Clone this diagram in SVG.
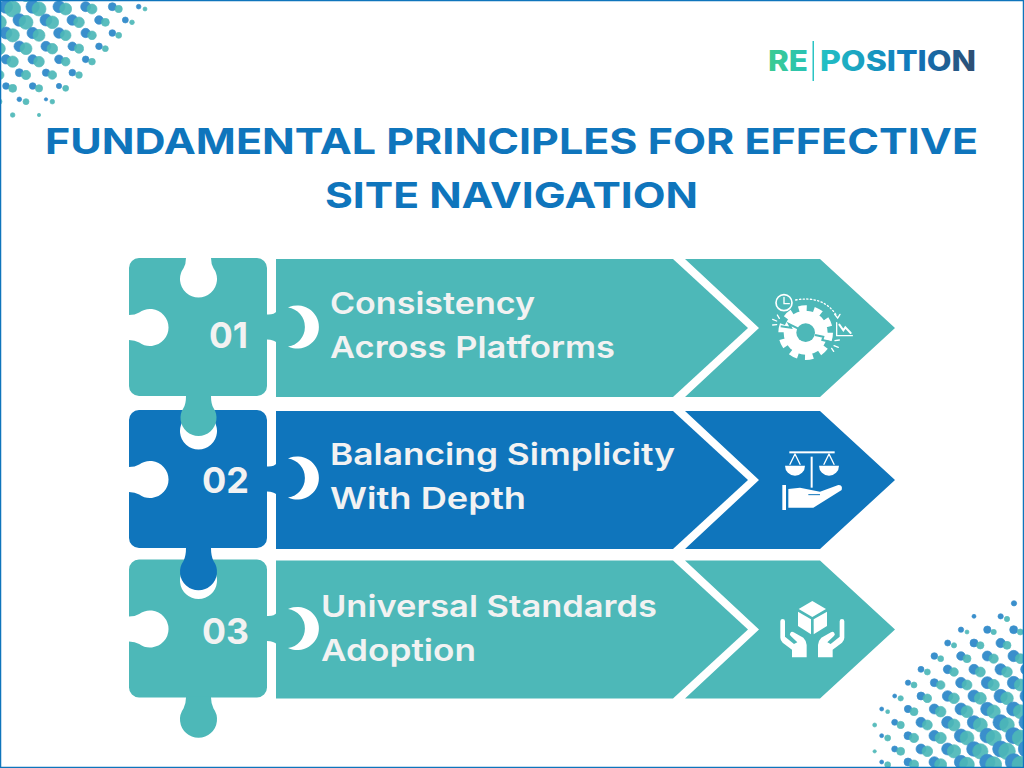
<svg xmlns="http://www.w3.org/2000/svg" width="1024" height="768" viewBox="0 0 1024 768">
<style>
.t{fill:#4DB8B8}.b{fill:#0F75BC}
.dots .d{fill:#3A8FCC;stroke:#3A8FCC;stroke-width:2}.dots .e{fill:#4DB8B8;stroke:#4DB8B8;stroke-width:2;opacity:.92}
text{font-family:Inter,"Liberation Sans",sans-serif}
.title{font-size:36px;font-weight:700;fill:#0F75BC}
.label{font-size:30px;font-weight:600;fill:#F2F2F2}
.num{font-size:36px;font-weight:700;fill:#F2F2F2}
.logo{font-size:28px;font-weight:800}
.w{fill:#fff}
.ws{fill:none;stroke:#fff;stroke-linecap:round}
</style>
<defs>
<linearGradient id="lg" gradientUnits="userSpaceOnUse" x1="769" y1="0" x2="976" y2="0">
<stop offset="0" stop-color="#3BCB92"/><stop offset=".27" stop-color="#22BFC4"/><stop offset=".7" stop-color="#0F75BC"/><stop offset="1" stop-color="#2F4D70"/>
</linearGradient>
<path id="piece" d="M10 0H57Q57 6 54.5 10.2A18.5 18.5 0 1 0 84.5 10.2Q82 6 82 0H128A10 10 0 0 1 138 10V128A10 10 0 0 1 128 138H10A10 10 0 0 1 0 128V82Q6 82 10.2 84.5A18.5 18.5 0 1 0 10.2 54.5Q6 57 0 57V10A10 10 0 0 1 10 0Z"/>
<path id="arrow" d="M147 1H544L619 70L544 139H147Z"/>
<path id="neck" d="M138 56.5Q145 57 148 53V85Q145 81.5 138 81.5Z"/>
<path id="arrowhead" d="M556 1H691L766 70L691 139H556L630 70Z"/>
<path id="crescent" d="M159 49A21.6 21.6 0 1 1 159 88A19.7 19.7 0 0 0 159 49Z" fill="#fff"/>
</defs>
<rect width="1024" height="768" fill="#fff"/>

<g id="dots-top-left" class="dots" transform="scale(.33333)">
<circle class="e" cx="78" cy="-13" r="18"/><circle class="e" cx="157" cy="-13" r="14"/><circle class="e" cx="237" cy="-13" r="12"/>
<circle class="d" cx="18" cy="20" r="20"/><circle class="e" cx="38" cy="27" r="24"/><circle class="d" cx="98" cy="20" r="20"/><circle class="e" cx="117" cy="27" r="21"/><circle class="d" cx="177" cy="20" r="18"/><circle class="e" cx="197" cy="27" r="18"/><circle class="d" cx="257" cy="20" r="15"/><circle class="e" cx="276" cy="27" r="15"/><circle class="d" cx="337" cy="20" r="12"/><circle class="e" cx="356" cy="27" r="11"/><circle class="d" cx="416" cy="20" r="7"/><circle class="e" cx="435" cy="27" r="6"/>
<circle class="e" cx="-2" cy="67" r="21"/><circle class="d" cx="58" cy="60" r="19"/><circle class="e" cx="78" cy="67" r="21"/><circle class="d" cx="138" cy="60" r="18"/><circle class="e" cx="157" cy="67" r="19"/><circle class="d" cx="217" cy="60" r="16"/><circle class="e" cx="237" cy="67" r="16"/><circle class="d" cx="297" cy="60" r="13"/><circle class="e" cx="316" cy="67" r="12"/><circle class="d" cx="376" cy="60" r="9"/><circle class="e" cx="396" cy="67" r="7"/>
<circle class="d" cx="18" cy="99" r="18"/><circle class="e" cx="38" cy="106" r="20"/><circle class="d" cx="98" cy="99" r="17"/><circle class="e" cx="117" cy="106" r="18"/><circle class="d" cx="177" cy="99" r="16"/><circle class="e" cx="197" cy="106" r="16"/><circle class="d" cx="257" cy="99" r="14"/><circle class="e" cx="276" cy="106" r="13"/><circle class="d" cx="337" cy="99" r="10"/><circle class="e" cx="356" cy="106" r="9"/>
<circle class="e" cx="-2" cy="146" r="18"/><circle class="d" cx="58" cy="139" r="16"/><circle class="e" cx="78" cy="146" r="18"/><circle class="d" cx="138" cy="139" r="15"/><circle class="e" cx="157" cy="146" r="16"/><circle class="d" cx="217" cy="139" r="13"/><circle class="e" cx="237" cy="146" r="14"/><circle class="d" cx="297" cy="139" r="10"/><circle class="e" cx="316" cy="146" r="9"/>
<circle class="d" cx="18" cy="178" r="14"/><circle class="e" cx="38" cy="185" r="17"/><circle class="d" cx="98" cy="178" r="14"/><circle class="e" cx="117" cy="185" r="16"/><circle class="d" cx="177" cy="178" r="13"/><circle class="e" cx="197" cy="185" r="13"/><circle class="d" cx="257" cy="178" r="10"/><circle class="e" cx="276" cy="185" r="10"/>
<circle class="e" cx="-2" cy="225" r="14"/><circle class="d" cx="58" cy="218" r="12"/><circle class="e" cx="78" cy="225" r="14"/><circle class="d" cx="138" cy="218" r="11"/><circle class="e" cx="157" cy="225" r="13"/><circle class="d" cx="217" cy="218" r="10"/><circle class="e" cx="237" cy="225" r="10"/>
<circle class="d" cx="18" cy="258" r="10"/><circle class="e" cx="38" cy="265" r="12"/><circle class="d" cx="98" cy="258" r="10"/><circle class="e" cx="117" cy="265" r="11"/><circle class="d" cx="177" cy="258" r="8"/><circle class="e" cx="197" cy="265" r="9"/>
<circle class="e" cx="-2" cy="305" r="8"/><circle class="d" cx="58" cy="298" r="7"/><circle class="e" cx="78" cy="305" r="9"/><circle class="d" cx="138" cy="298" r="5"/><circle class="e" cx="157" cy="305" r="7"/>
<circle class="e" cx="38" cy="345" r="7"/><circle class="e" cx="117" cy="345" r="5"/>
</g>

<g id="dots-bottom-right" class="dots" transform="translate(860 590) scale(.33333)">
<circle class="d" cx="462" cy="40" r="8"/>
<circle class="d" cx="342" cy="79" r="6"/><circle class="d" cx="422" cy="79" r="8"/><circle class="e" cx="441" cy="87" r="8"/>
<circle class="d" cx="303" cy="119" r="8"/><circle class="e" cx="321" cy="126" r="6"/><circle class="d" cx="382" cy="119" r="11"/><circle class="e" cx="401" cy="126" r="8"/><circle class="d" cx="461" cy="119" r="12"/><circle class="e" cx="481" cy="126" r="9"/>
<circle class="d" cx="263" cy="159" r="9"/><circle class="e" cx="282" cy="166" r="8"/><circle class="d" cx="342" cy="159" r="12"/><circle class="e" cx="361" cy="166" r="11"/><circle class="d" cx="422" cy="159" r="14"/><circle class="e" cx="441" cy="166" r="12"/>
<circle class="d" cx="223" cy="198" r="10"/><circle class="e" cx="242" cy="206" r="9"/><circle class="d" cx="303" cy="198" r="13"/><circle class="e" cx="321" cy="206" r="12"/><circle class="d" cx="382" cy="198" r="15"/><circle class="e" cx="401" cy="206" r="14"/><circle class="d" cx="461" cy="198" r="17"/><circle class="e" cx="481" cy="206" r="15"/>
<circle class="d" cx="183" cy="238" r="9"/><circle class="e" cx="202" cy="246" r="9"/><circle class="d" cx="263" cy="238" r="13"/><circle class="e" cx="282" cy="246" r="13"/><circle class="d" cx="342" cy="238" r="15"/><circle class="e" cx="361" cy="246" r="15"/><circle class="d" cx="422" cy="238" r="17"/><circle class="e" cx="441" cy="246" r="16"/><circle class="d" cx="500" cy="238" r="18"/>
<circle class="d" cx="144" cy="278" r="8"/><circle class="e" cx="162" cy="285" r="9"/><circle class="d" cx="223" cy="278" r="12"/><circle class="e" cx="242" cy="285" r="13"/><circle class="d" cx="303" cy="278" r="16"/><circle class="e" cx="321" cy="285" r="15"/><circle class="d" cx="382" cy="278" r="18"/><circle class="e" cx="401" cy="285" r="17"/><circle class="d" cx="461" cy="278" r="19"/><circle class="e" cx="481" cy="285" r="18"/>
<circle class="d" cx="104" cy="318" r="6"/><circle class="e" cx="122" cy="325" r="8"/><circle class="d" cx="183" cy="318" r="12"/><circle class="e" cx="202" cy="325" r="13"/><circle class="d" cx="263" cy="318" r="16"/><circle class="e" cx="282" cy="325" r="16"/><circle class="d" cx="342" cy="318" r="18"/><circle class="e" cx="361" cy="325" r="18"/><circle class="d" cx="422" cy="318" r="20"/><circle class="e" cx="441" cy="325" r="19"/><circle class="d" cx="500" cy="318" r="20"/>
<circle class="d" cx="65" cy="357" r="6"/><circle class="e" cx="83" cy="365" r="6"/><circle class="d" cx="144" cy="357" r="11"/><circle class="e" cx="162" cy="365" r="12"/><circle class="d" cx="223" cy="357" r="15"/><circle class="e" cx="242" cy="365" r="16"/><circle class="d" cx="303" cy="357" r="18"/><circle class="e" cx="321" cy="365" r="18"/><circle class="d" cx="382" cy="357" r="20"/><circle class="e" cx="401" cy="365" r="20"/><circle class="d" cx="461" cy="357" r="21"/><circle class="e" cx="481" cy="365" r="21"/>
<circle class="e" cx="44" cy="405" r="6"/><circle class="d" cx="104" cy="397" r="9"/><circle class="e" cx="122" cy="405" r="11"/><circle class="d" cx="183" cy="397" r="15"/><circle class="e" cx="202" cy="405" r="15"/><circle class="d" cx="263" cy="397" r="18"/><circle class="e" cx="282" cy="405" r="18"/><circle class="d" cx="342" cy="397" r="20"/><circle class="e" cx="361" cy="405" r="21"/><circle class="d" cx="422" cy="397" r="23"/><circle class="e" cx="441" cy="405" r="22"/><circle class="d" cx="500" cy="397" r="23"/>
<circle class="d" cx="65" cy="437" r="6"/><circle class="e" cx="83" cy="444" r="9"/><circle class="d" cx="144" cy="437" r="12"/><circle class="e" cx="162" cy="444" r="14"/><circle class="d" cx="223" cy="437" r="16"/><circle class="e" cx="242" cy="444" r="17"/><circle class="d" cx="303" cy="437" r="20"/><circle class="e" cx="321" cy="444" r="21"/><circle class="d" cx="382" cy="437" r="22"/><circle class="e" cx="401" cy="444" r="23"/><circle class="d" cx="461" cy="437" r="24"/><circle class="e" cx="481" cy="444" r="24"/>
<circle class="e" cx="44" cy="484" r="5"/><circle class="d" cx="104" cy="477" r="9"/><circle class="e" cx="122" cy="484" r="12"/><circle class="d" cx="183" cy="477" r="15"/><circle class="e" cx="202" cy="484" r="16"/><circle class="d" cx="263" cy="477" r="18"/><circle class="e" cx="282" cy="484" r="20"/><circle class="d" cx="342" cy="477" r="22"/><circle class="e" cx="361" cy="484" r="23"/><circle class="d" cx="422" cy="477" r="24"/><circle class="e" cx="441" cy="484" r="25"/><circle class="d" cx="500" cy="477" r="25"/>
<circle class="d" cx="65" cy="516" r="6"/><circle class="e" cx="83" cy="524" r="9"/><circle class="d" cx="144" cy="516" r="12"/><circle class="e" cx="162" cy="524" r="14"/><circle class="d" cx="223" cy="516" r="16"/><circle class="e" cx="242" cy="524" r="18"/><circle class="d" cx="303" cy="516" r="20"/><circle class="e" cx="321" cy="524" r="22"/><circle class="d" cx="382" cy="516" r="23"/><circle class="e" cx="401" cy="524" r="24"/><circle class="d" cx="461" cy="516" r="25"/><circle class="e" cx="481" cy="524" r="25"/>
</g>

<g id="logo">
<text class="logo" x="768" y="71" textLength="40" lengthAdjust="spacingAndGlyphs" fill="url(#lg)">RE</text>
<rect x="812.5" y="41" width="1.5" height="40" fill="#2BC4C4"/>
<text class="logo" x="820" y="71" textLength="156" lengthAdjust="spacingAndGlyphs" fill="url(#lg)">POSITION</text>
</g>

<g id="title">
<text class="title" x="45" y="154" textLength="933" lengthAdjust="spacingAndGlyphs">FUNDAMENTAL PRINCIPLES FOR EFFECTIVE</text>
<text class="title" x="325" y="208" textLength="373" lengthAdjust="spacingAndGlyphs">SITE NAVIGATION</text>
</g>

<g id="row-3" transform="translate(129 559.5)">
<g class="t">
<use href="#piece"/>
<path d="M57 137H82V138Q82 144 84.5 149A18.5 18.5 0 1 1 54.5 149Q57 144 57 138Z"/>
<use href="#neck"/><use href="#arrow"/><use href="#arrowhead"/>
</g>
<use href="#crescent" y=".5"/>
<text class="num" x="73" y="84" textLength="47" lengthAdjust="spacingAndGlyphs">03</text>
<text class="label" x="192" y="57.5" textLength="336" lengthAdjust="spacingAndGlyphs">Universal Standards</text>
<text class="label" x="192" y="101.5" textLength="155" lengthAdjust="spacingAndGlyphs">Adoption</text>
<g transform="translate(531 -4.5) scale(.33333)">
<path class="w" d="M457 138L498 162L457 186L416 162Z"/>
<path class="w" d="M414 170L453 193V238L414 213Z"/><path class="w" d="M501 170L461 193V238L501 213Z"/>
<path class="w" d="M361 199a7 7 0 0 1 14 0V245L402 267L412 262L393 244a6 6 0 0 1 8-12L430 248Q440 258 440 270V307H396V284L368 263Q361 256 361 248Z"/>
<path class="w" transform="translate(914 0) scale(-1 1)" d="M361 199a7 7 0 0 1 14 0V245L402 267L412 262L393 244a6 6 0 0 1 8-12L430 248Q440 258 440 270V307H396V284L368 263Q361 256 361 248Z"/>
</g>
</g>

<g id="row-2" transform="translate(129 410)">
<g class="b">
<use href="#piece"/>
<path d="M57 137H82V138Q82 146 84.5 151A18.5 18.5 0 1 1 54.5 151Q57 146 57 138Z"/>
<use href="#neck"/><use href="#arrow"/><use href="#arrowhead"/>
</g>
<use href="#crescent" y="-.5"/>
<text class="num" x="73" y="83" textLength="47" lengthAdjust="spacingAndGlyphs">02</text>
<text class="label" x="201" y="55" textLength="345" lengthAdjust="spacingAndGlyphs">Balancing Simplicity</text>
<text class="label" x="201" y="99" textLength="196" lengthAdjust="spacingAndGlyphs">With Depth</text>
<g transform="translate(531 -5) scale(.33333)">
<rect class="w" x="388" y="139" width="136" height="6"/><rect class="w" x="452" y="155" width="6" height="93"/>
<path class="ws" stroke-width="4" d="M405 147L390 178M405 147L420 178M507 147L492 178M507 147L522 178"/>
<path class="w" d="M375 182H435A30 30 0 0 1 375 182Z"/><path class="w" d="M477 182H537A30 30 0 0 1 477 182Z"/>
<rect class="w" x="367" y="240" width="11" height="75"/>
<path class="w" d="M385 252L420 248L480 260L535 240Q549 240 545 255L460 308H385Z"/>
<path d="M445 269H480" stroke="#0F75BC" stroke-width="3" fill="none"/>
</g>
</g>

<g id="row-1" transform="translate(129 258)">
<g class="t">
<use href="#piece"/>
<path d="M57 137H82V138Q82 146 84.5 150A18 18 0 1 1 54.5 150Q57 146 57 138Z"/>
<use href="#neck"/><use href="#arrow"/><use href="#arrowhead"/>
</g>
<use href="#crescent" y=".5"/>
<text class="num" x="80" y="90" textLength="39" lengthAdjust="spacingAndGlyphs">01</text>
<text class="label" x="201" y="56" textLength="205" lengthAdjust="spacingAndGlyphs">Consistency</text>
<text class="label" x="201" y="100" textLength="285" lengthAdjust="spacingAndGlyphs">Across Platforms</text>
<g transform="translate(531 -8) scale(.33333)">
<circle class="w" cx="437" cy="248" r="66"/>
<circle cx="437" cy="248" r="72" fill="none" stroke="#fff" stroke-width="20" stroke-dasharray="24 21.2"/>
<circle class="t" cx="437" cy="248" r="28"/>
<path d="M362 229L393 233L387 222L415 236M465 255L490 260L487 270L522 278" fill="none" stroke="#4DB8B8" stroke-width="6"/>
<circle cx="372" cy="158" r="24" fill="none" stroke="#fff" stroke-width="5"/>
<path class="ws" stroke-width="4" d="M372 142V161H388"/>
<path class="ws" stroke-width="4" stroke-dasharray="4 7" d="M407 150Q490 135 530 197"/>
<path class="ws" stroke-width="4" d="M524 193L533 204L540 193"/>
<path class="ws" stroke-width="4" d="M530 218V257H577"/>
<path class="ws" stroke-width="6" d="M538 224L550 241L556 232L572 249"/>
<path class="ws" stroke-width="4" d="M338 225L350 224M338 208L350 213M352 195L358 205M525 272L538 270M522 287L535 292M515 295L521 304"/>
</g>
</g>

<rect id="border" x=".5" y=".5" width="1023" height="767" fill="none" stroke="#0F75BC" stroke-width="1.5"/>
</svg>
